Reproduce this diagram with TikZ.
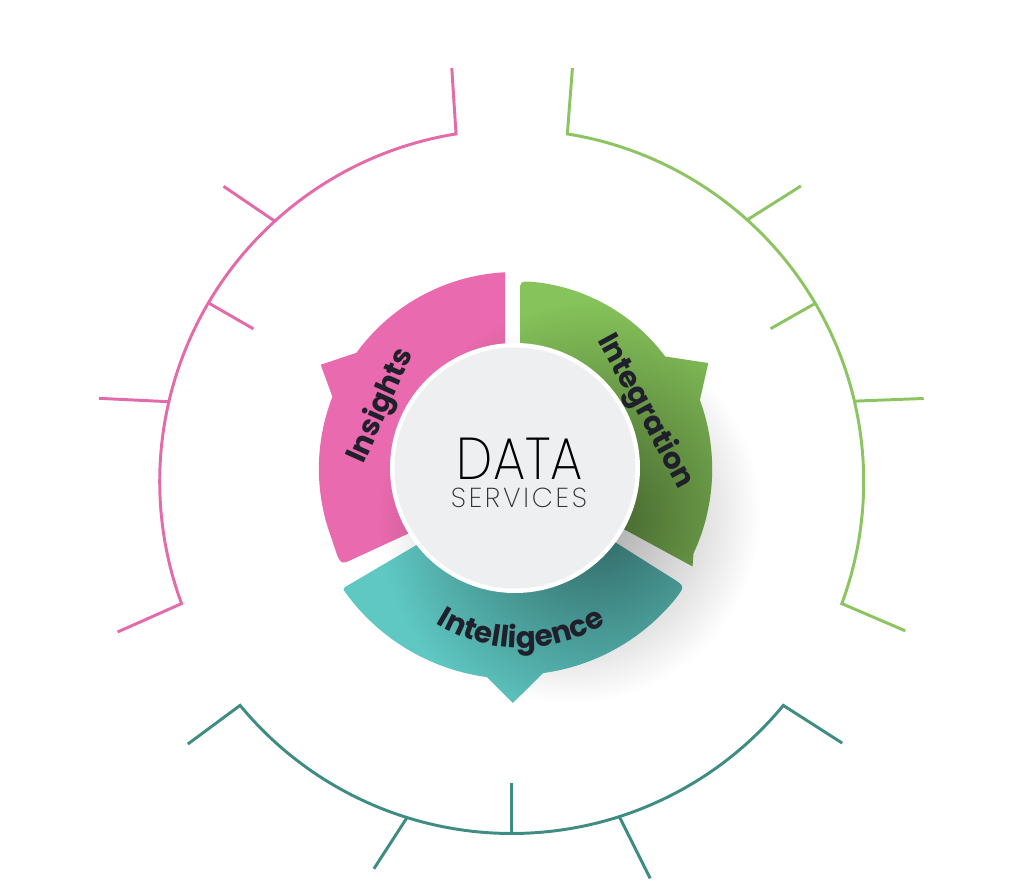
\documentclass[tikz,border=0pt]{standalone}
\usepackage{fontspec}
\setmainfont{Poppins}
\newfontfamily\thinfont{Poppins ExtraLight}
\usetikzlibrary{decorations.text, fadings}

\definecolor{pinkpetal}{HTML}{E96AAE}
\definecolor{greenpetal}{HTML}{86C35A}
\definecolor{tealpetal}{HTML}{5FC8C3}
\definecolor{pinkline}{HTML}{E36BA9}
\definecolor{greenline}{HTML}{8CC462}
\definecolor{tealline}{HTML}{3F8C82}
\definecolor{labelink}{HTML}{20202C}
\definecolor{discfill}{HTML}{EEEFF1}

\newcommand{\labelstyle}{\bfseries\fontsize{21}{21}\selectfont}
\tikzfading[name=discfade, inner color=transparent!0, outer color=transparent!100]

% Outlines of the three petals, around the centre of the disc
\newcommand{\pinkoutline}{(-10,100) -- (92.9:196) arc[start angle=92.9, end angle=144, radius=196]
  -- (152:220) -- (158.7:196) arc[start angle=158.7, end angle=201, radius=198]
  .. controls (209:200) .. (-164,-92) -- (-29.6,-30) -- cycle}
\newcommand{\greenoutline}{(5,100) -- (5,176) .. controls (5,187) .. (84:187)
  arc[start angle=84, end angle=36.6, radius=187]
  -- (28.5:220) -- (20.2:197) arc[start angle=20.2, end angle=-25, radius=200]
  -- (-29:203) -- (28,-17.3) -- cycle}
\newcommand{\tealoutline}{(215:208) -- (-40.7,-43) -- (30,-30) -- (157.2,-110.2)
  .. controls (169.9,-118.2) .. (321:207) arc[start angle=321, end angle=277.8, radius=207]
  -- (269.5:235) -- (262.4:211) arc[start angle=262.4, end angle=215, radius=209] -- cycle}

\begin{document}
\begin{tikzpicture}[x=0.025cm, y=0.025cm,
    % Define styles for the outer ring and the labels.
    ring/.style={line width=2.1pt, line join=miter},
    petallabel/.style={font=\labelstyle, text=labelink, inner sep=0pt},
    bigword/.style={font=\thinfont\fontsize{42}{42}\selectfont, text=black, inner sep=0pt},
    smallword/.style={font=\thinfont\fontsize{19.5}{19.5}\selectfont\addfontfeatures{LetterSpace=10},
      text=black!80, inner sep=0pt}
]
\useasboundingbox (-511.7,-399.5) rectangle (512.3,481.5);

% Outer ring, pink part with its hooks and ticks
\draw[ring, pinkline] (99.1:352) ++(93.7:66) -- (99.1:352)
  arc[start angle=99.1, end angle=200.3, radius=352] -- ++(203.9:70);
\foreach \a/\t/\l in {132.3/145.8/62, 149.5/-30/52, 166.9/177.2/70}
  \draw[ring, pinkline] (\a:352) -- ++(\t:\l);

% Outer ring, green part
\draw[ring, greenline] (80.9:352) ++(85.6:66) -- (80.9:352)
  arc[start angle=80.9, end angle=-20.3, radius=352] -- ++(-23.2:69);
\foreach \a/\t/\l in {48/32.3/63.5, 30.4/209.5/51.4, 13.2/2.2/69.4}
  \draw[ring, greenline] (\a:352) -- ++(\t:\l);

% Outer ring, teal part
\draw[ring, tealline] (219.5:352) ++(216.5:65) -- (219.5:352)
  arc[start angle=219.5, end angle=320.5, radius=352] -- ++(327.4:70);
\foreach \a/\t/\l in {252.7/237.1/61, 270/90/51, 287.8/296.6/69}
  \draw[ring, tealline] (\a:352) -- ++(\t:\l);

\begin{scope}[shift={(3.3,13.5)}]
% Faint shadow of the wheel on the page
\fill[black, opacity=0.4, path fading=discfade] (55,-45) circle (190);

% Petals 1-3: Insights, Integration, Intelligence
\fill[pinkpetal] \pinkoutline;
\fill[greenpetal] \greenoutline;
\fill[tealpetal] \tealoutline;

% Shadow of the disc, falling on the petals to the lower right
\begin{scope}
  \clip \pinkoutline \greenoutline \tealoutline;
  \fill[black, opacity=0.5, path fading=discfade] (80,-50) circle (215);
\end{scope}

% Central disc
\fill[white] (0,0) circle (125);
\fill[discfill] (0,0) circle (120.5);
\node[bigword, anchor=base, xscale=0.87] (data) at (5,-11) {DATA};
\node[smallword, anchor=base] (services) at (4,-39) {SERVICES};

% Petal labels
\node[petallabel, rotate=66] (insights) at (-133.5,62) {Insights};
\node[petallabel, rotate=-61.4] (integration) at (130,56.5) {Integration};
\path[decorate, decoration={text along path, text={|\labelstyle|Intelligence},
  text align=center, text color=labelink}]
  (-107.8,-132.8) arc[start angle=225, end angle=315, radius=161];
\end{scope}

\end{tikzpicture}
\end{document}
